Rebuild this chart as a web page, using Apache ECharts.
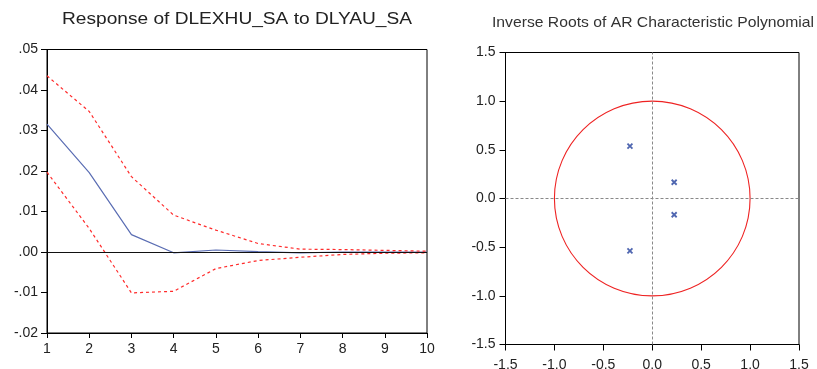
<!DOCTYPE html>
<html>
<head>
<meta charset="utf-8">
<script src="https://cdn.jsdelivr.net/npm/echarts@6/dist/echarts.min.js"></script>
<style>
html,body{margin:0;padding:0;background:#fff;}
#chart{width:817px;height:369px;}
</style>
</head>
<body>
<div id="chart"></div>
<script>
// ---- Data: impulse response ----
var leftTitle = 'Response of DLEXHU_SA to DLYAU_SA';
var steps = [1, 2, 3, 4, 5, 6, 7, 8, 9, 10];
var response = [0.0316, 0.0196, 0.0043, -0.0002, 0.0005, 0.0001, -0.0002, 0.0000, 0.0000, 0.0000];
var upperBand = [0.0435, 0.0347, 0.0186, 0.0091, 0.0054, 0.0021, 0.0007, 0.0006, 0.0004, 0.0002];
var lowerBand = [0.0197, 0.0058, -0.0101, -0.0097, -0.0041, -0.0021, -0.0013, -0.0006, -0.0003, -0.0002];
var leftYTicks = ['-.02', '-.01', '.00', '.01', '.02', '.03', '.04', '.05'];

// ---- Data: inverse roots ----
var rightTitle = 'Inverse Roots of AR Characteristic Polynomial';
var rootsRe = [-0.228, -0.228, 0.224, 0.224];
var rootsIm = [0.538, -0.538, 0.167, -0.167];
var unitCircleRadius = 1;
var rightTicks = ['-1.5', '-1.0', '-0.5', '0.0', '0.5', '1.0', '1.5'];

function measure(text, font) {
  var c = document.createElement('canvas').getContext('2d');
  c.font = font;
  return c.measureText(text).width;
}

var chart = echarts.init(document.getElementById('chart'), null, {renderer: 'canvas'});

var leftFont = '16px "Liberation Sans"';
var leftScale = 350 / measure(leftTitle, leftFont);
var rightFont = '15px "Liberation Sans"';
var rightScale = 322 / measure(rightTitle, rightFont);

var yLabelMap = {};
leftYTicks.forEach(function (t, i) { yLabelMap[(-0.02 + i * 0.01).toFixed(2)] = t; });

var option = {
  backgroundColor: '#fff',
  animation: false,
  graphic: [
    {
      type: 'text', x: 237, y: 20, scaleX: leftScale,
      style: {text: leftTitle, font: leftFont, fill: '#222', align: 'center', verticalAlign: 'middle'}
    },
    {
      type: 'text', x: 653, y: 23, scaleX: rightScale,
      style: {text: rightTitle, font: rightFont, fill: '#333', align: 'center', verticalAlign: 'middle'}
    }
  ],
  grid: [
    {left: 47, right: 390, top: 49.5, bottom: 36, show: true, borderColor: '#000', borderWidth: 1,
      backgroundColor: 'transparent', containLabel: false, outerBoundsMode: 'none'},
    {left: 505.5, right: 18, top: 52.5, bottom: 24.5, show: true, borderColor: '#000', borderWidth: 1,
      backgroundColor: 'transparent', containLabel: false, outerBoundsMode: 'none'}
  ],
  xAxis: [
    {
      gridIndex: 0, type: 'value', min: 1, max: 10, interval: 1,
      axisLine: {show: true, onZero: false, lineStyle: {color: '#000', width: 1}},
      axisTick: {show: true, length: 5, lineStyle: {color: '#000'}},
      axisLabel: {margin: 9, fontSize: 14, fontFamily: 'Liberation Sans', color: '#222'},
      splitLine: {show: false}
    },
    {
      gridIndex: 1, type: 'value', min: -1.5, max: 1.5, interval: 0.5,
      axisLine: {show: true, onZero: false, lineStyle: {color: '#000', width: 1}},
      axisTick: {show: true, length: 6, lineStyle: {color: '#000'}},
      axisLabel: {margin: 14, fontSize: 14, fontFamily: 'Liberation Sans', color: '#222',
        formatter: function (v) { return v.toFixed(1); }},
      splitLine: {show: false}
    }
  ],
  yAxis: [
    {
      gridIndex: 0, type: 'value', min: -0.02, max: 0.05, interval: 0.01,
      axisLine: {show: true, onZero: false, lineStyle: {color: '#000', width: 1}},
      axisTick: {show: true, length: 6, lineStyle: {color: '#000'}},
      axisLabel: {margin: 9, fontSize: 14, fontFamily: 'Liberation Sans', color: '#222',
        formatter: function (v) { return yLabelMap[v.toFixed(2)] || ''; }},
      splitLine: {show: false}
    },
    {
      gridIndex: 1, type: 'value', min: -1.5, max: 1.5, interval: 0.5,
      axisLine: {show: true, onZero: false, lineStyle: {color: '#000', width: 1}},
      axisTick: {show: true, length: 6, lineStyle: {color: '#000'}},
      axisLabel: {margin: 10, fontSize: 14, fontFamily: 'Liberation Sans', color: '#222',
        formatter: function (v) { return v.toFixed(1); }},
      splitLine: {show: false}
    }
  ],
  series: [
    {
      type: 'line', xAxisIndex: 0, yAxisIndex: 0, symbol: 'none', silent: true,
      data: steps.map(function (s, i) { return [s, upperBand[i]]; }),
      lineStyle: {color: '#ff2b2b', width: 1.2, type: [3, 3]},
      z: 3
    },
    {
      type: 'line', xAxisIndex: 0, yAxisIndex: 0, symbol: 'none', silent: true,
      data: steps.map(function (s, i) { return [s, lowerBand[i]]; }),
      lineStyle: {color: '#ff2b2b', width: 1.2, type: [3, 3]},
      z: 3
    },
    {
      type: 'line', xAxisIndex: 0, yAxisIndex: 0, symbol: 'none', silent: true,
      data: steps.map(function (s, i) { return [s, response[i]]; }),
      lineStyle: {color: '#5a6db3', width: 1.2},
      markLine: {
        silent: true, symbol: 'none', label: {show: false},
        lineStyle: {color: '#111', width: 1, type: 'solid'},
        data: [{yAxis: 0}]
      },
      z: 2
    },
    {
      type: 'custom', xAxisIndex: 1, yAxisIndex: 1, silent: true,
      data: [[0, 0, unitCircleRadius]],
      renderItem: function (params, api) {
        var c = api.coord([api.value(0), api.value(1)]);
        var sz = api.size([api.value(2), api.value(2)]);
        return {
          type: 'ellipse',
          shape: {cx: c[0], cy: c[1], rx: sz[0], ry: sz[1]},
          style: {fill: 'none', stroke: '#ee2222', lineWidth: 1.1}
        };
      },
      z: 2
    },
    {
      type: 'scatter', xAxisIndex: 1, yAxisIndex: 1, silent: true,
      data: rootsRe.map(function (r, i) { return [r, rootsIm[i]]; }),
      symbol: 'path://M0,0L10,10M10,0L0,10',
      symbolSize: 5,
      itemStyle: {color: 'transparent', borderColor: '#23409c', borderWidth: 1.8},
      markLine: {
        silent: true, symbol: 'none', label: {show: false},
        lineStyle: {color: '#888', width: 1, type: [3, 2]},
        data: [{xAxis: 0}, {yAxis: 0}]
      },
      z: 3
    }
  ]
};
chart.setOption(option);
</script>
</body>
</html>
